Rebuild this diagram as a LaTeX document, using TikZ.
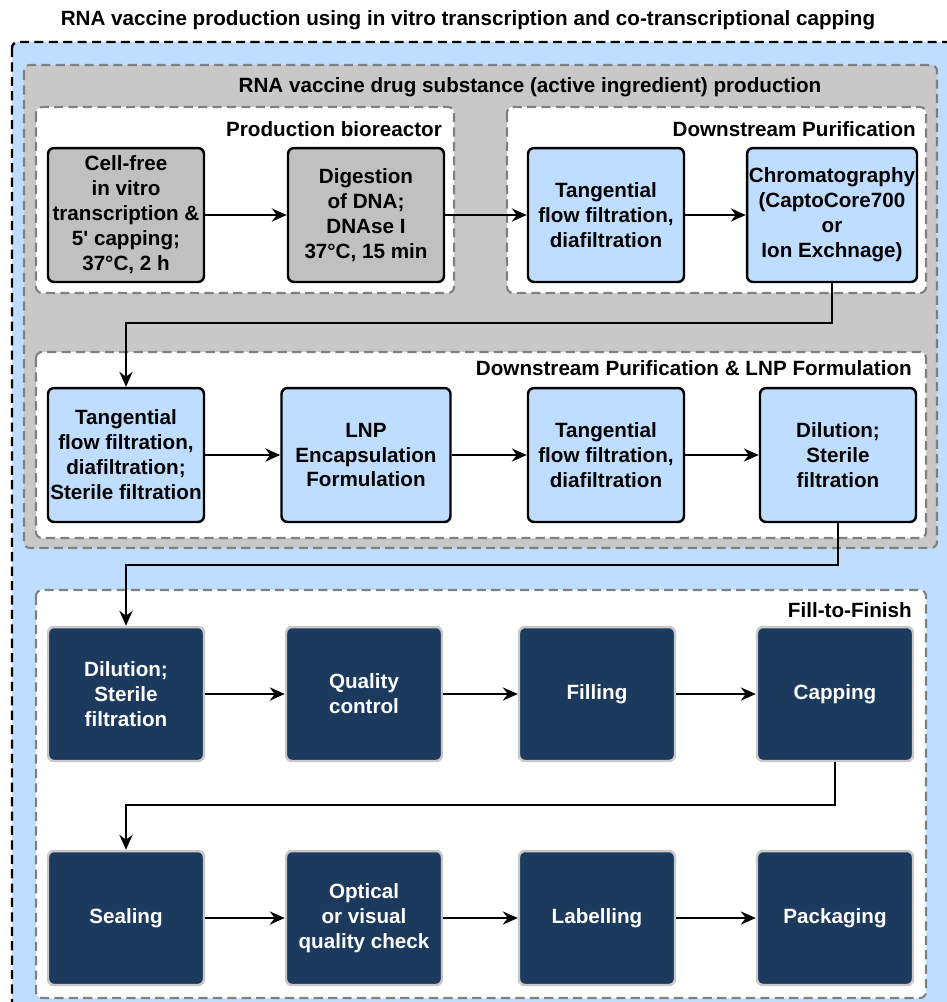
\documentclass[tikz,border=0pt]{standalone}
\usepackage{fontspec}
\setmainfont{Liberation Sans}
\usetikzlibrary{arrows.meta}
\definecolor{bgblue}{RGB}{191,222,255}
\definecolor{boxblue}{RGB}{191,222,255}
\definecolor{bggray}{RGB}{200,200,200}
\definecolor{boxgray}{RGB}{192,192,192}
\definecolor{navy}{RGB}{27,58,94}
\definecolor{rimgray}{RGB}{200,200,200}
\definecolor{dashgray}{RGB}{128,128,128}
\tikzset{
    txt/.style={font=\fontsize{11.75}{14.2}\selectfont\bfseries, align=center},
    stage/.style={txt, draw, line width=1.4pt, rounded corners=3.4pt,
        minimum width=3.12cm, minimum height=2.68cm, inner sep=1pt},
    graystage/.style={stage, fill=boxgray},
    bluestage/.style={stage, fill=boxblue},
    navystage/.style={stage, fill=navy, draw=rimgray, text=white},
    group/.style={draw=dashgray, line width=1.2pt, dash pattern=on 5.2pt off 3pt, rounded corners=3.4pt},
    grouplabel/.style={txt, anchor=east},
    flow/.style={-{Stealth[length=8.5pt,width=7.5pt]}, line width=1.4pt},
}
\begin{document}
\begin{tikzpicture}[x=0.02cm, y=-0.02cm]
    \useasboundingbox (0,0) rectangle (947,1002);
    \clip (0,0) rectangle (947,1002);
    \node[txt] (title) at (468,20) {RNA vaccine production using in vitro transcription and co-transcriptional capping};
    % containers
    \draw[fill=bgblue, line width=1.4pt, dash pattern=on 5.2pt off 3pt, rounded corners=3.4pt] (12,42) rectangle (970,1030);
    \draw[group, fill=bggray] (24,65) rectangle (937,548);
    \node[txt] (dslabel) at (530,87) {RNA vaccine drug substance (active ingredient) production};
    \draw[group, fill=white] (36,107) rectangle (454,293);
    \node[grouplabel] (biolabel) at (448,129) {Production bioreactor};
    \draw[group, fill=white] (507,107) rectangle (926,293);
    \node[grouplabel] (dsplabel) at (922,129) {Downstream Purification};
    \draw[group, fill=white] (36,352) rectangle (926,538);
    \node[grouplabel] (lnplabel) at (918,368) {Downstream Purification \& LNP Formulation};
    \draw[group, fill=white] (36,590) rectangle (926,998);
    \node[grouplabel] (fflabel) at (918,610) {Fill-to-Finish};
    % row 1
    \node[graystage] (ivt) at (126,215) {Cell-free\\in vitro\\transcription \&\\5\textquotesingle{} capping;\\37°C, 2 h};
    \node[graystage] (dnase) at (366,215) {Digestion\\of DNA;\\DNAse I\\37°C, 15 min};
    \node[bluestage] (tffa) at (606,215) {Tangential\\flow filtration,\\diafiltration};
    \node[bluestage, minimum width=3.4cm] (chrom) at (832,215) {Chromatography\\(CaptoCore700\\or\\Ion Exchnage)};
    % row 2
    \node[bluestage] (tffb) at (126,455) {Tangential\\flow filtration,\\diafiltration;\\Sterile filtration};
    \node[bluestage, minimum width=3.38cm] (lnp) at (366,455) {LNP\\Encapsulation\\Formulation};
    \node[bluestage] (tffc) at (606,455) {Tangential\\flow filtration,\\diafiltration};
    \node[bluestage] (dila) at (838,455) {Dilution;\\Sterile\\filtration};
    % row 3
    \node[navystage] (dilb) at (126,694) {Dilution;\\Sterile\\filtration};
    \node[navystage] (qc) at (364,694) {Quality\\control};
    \node[navystage] (fill) at (597,694) {Filling};
    \node[navystage] (cap) at (835,694) {Capping};
    % row 4
    \node[navystage] (seal) at (126,918) {Sealing};
    \node[navystage] (optic) at (364,918) {Optical\\or visual\\quality check};
    \node[navystage] (label) at (597,918) {Labelling};
    \node[navystage] (pack) at (835,918) {Packaging};
    % connectors
    \draw[flow] (ivt) -- (dnase);
    \draw[flow] (dnase) -- (tffa);
    \draw[flow] (tffa) -- (chrom);
    \draw[flow] (chrom.south) -- ++(0,40) -| (tffb.north);
    \draw[flow] (tffb) -- (lnp);
    \draw[flow] (lnp) -- (tffc);
    \draw[flow] (tffc) -- (dila);
    \draw[flow] (dila.south) -- ++(0,42) -| (dilb.north);
    \draw[flow] (dilb) -- (qc);
    \draw[flow] (qc) -- (fill);
    \draw[flow] (fill) -- (cap);
    \draw[flow] (cap.south) -- ++(0,43) -| (seal.north);
    \draw[flow] (seal) -- (optic);
    \draw[flow] (optic) -- (label);
    \draw[flow] (label) -- (pack);
\end{tikzpicture}
\end{document}
